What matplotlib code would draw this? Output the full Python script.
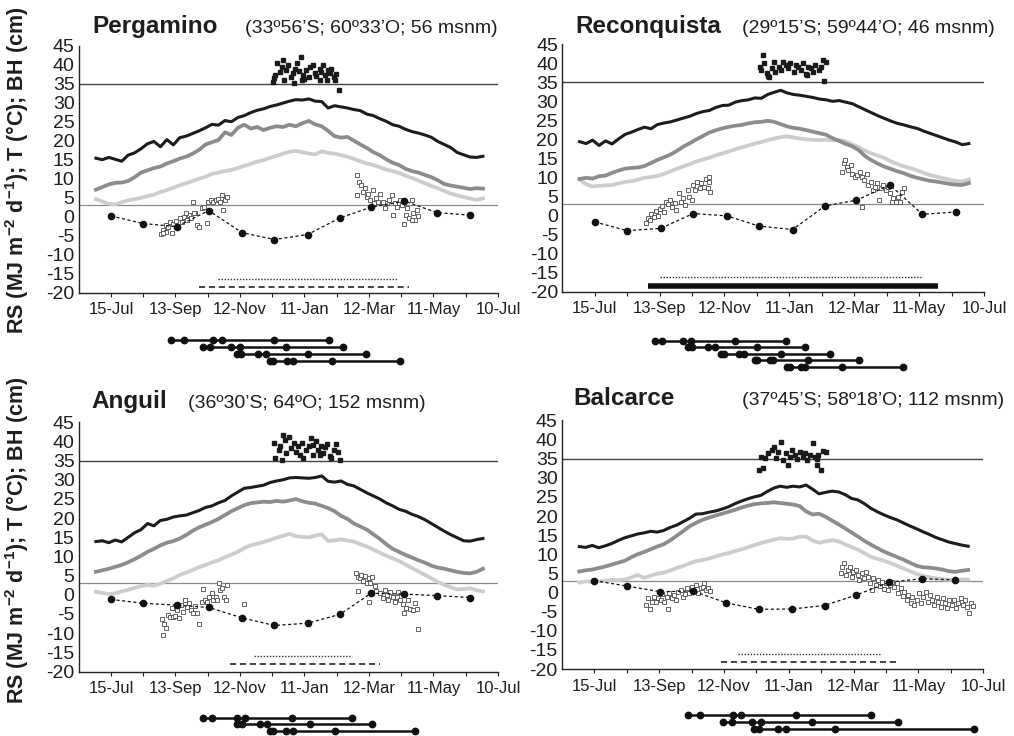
import matplotlib.pyplot as plt

plt.rcParams['font.family'] = ['Liberation Sans', 'DejaVu Sans']
plt.rcParams['mathtext.fontset'] = 'custom'
plt.rcParams['mathtext.rm'] = 'Liberation Sans'
plt.rcParams['mathtext.bf'] = 'Liberation Sans:bold'

W, H = 1014, 736

# days since 15-Jul
days = list(range(-14, 352, 6))
month_days = [0, 30, 61, 91, 122, 152, 183, 213, 242, 273, 303, 334]
tick_days = list(range(0, 361, 30))
tick_labels = ['15-Jul', '', '13-Sep', '', '12-Nov', '', '11-Jan', '', '12-Mar', '', '11-May', '', '10-Jul']
y_ticks = list(range(-20, 46, 5))

# ---- Pergamino
perg_black = [15.4, 15.0, 15.6, 15.1, 14.6, 16.2, 16.8, 17.9, 19.2, 19.8,
              18.4, 20.3, 18.9, 20.8, 21.2, 21.9, 22.6, 23.4, 24.3, 24.1,
              25.3, 25.0, 26.1, 26.6, 27.4, 28.0, 28.4, 29.0, 29.4, 29.9,
              30.4, 30.8, 30.7, 31.0, 30.4, 30.3, 28.6, 29.2, 28.9, 28.6,
              28.2, 27.9, 27.0, 26.6, 25.8, 25.1, 24.2, 23.8, 23.0, 22.4,
              22.0, 21.5, 20.9, 19.8, 19.0, 18.2, 16.9, 16.3, 15.7, 15.6, 15.9]
perg_gray = [7.1, 7.8, 8.5, 8.9, 9.0, 9.4, 10.4, 11.6, 12.2, 12.8,
             13.2, 14.0, 14.6, 15.3, 15.8, 16.6, 17.6, 19.0, 19.6, 20.2,
             22.2, 21.5, 23.4, 24.2, 23.2, 23.6, 22.8, 23.4, 23.8, 23.6,
             24.2, 23.8, 24.6, 25.2, 24.3, 23.8, 22.6, 21.2, 20.8, 21.0,
             20.0, 19.0, 18.1, 17.0, 16.2, 15.1, 14.2, 13.6, 12.6, 12.0,
             11.6, 11.0, 10.4, 9.6, 8.6, 8.2, 7.9, 7.6, 7.3, 7.5, 7.4]
perg_light = [4.6, 4.0, 3.4, 3.2, 3.8, 4.3, 4.6, 5.0, 5.4, 5.8,
              6.5, 7.0, 7.6, 8.3, 8.8, 9.4, 10.0, 10.5, 11.3, 11.6,
              12.0, 12.3, 12.8, 13.4, 13.9, 14.5, 14.9, 15.5, 16.0, 16.6,
              17.1, 17.3, 17.0, 16.6, 16.4, 17.2, 16.8, 16.6, 16.2, 15.8,
              15.2, 14.6, 14.0, 13.6, 13.0, 12.4, 12.0, 11.5, 10.8, 10.2,
              9.5, 8.8, 8.1, 7.5, 6.8, 6.1, 5.6, 5.2, 4.8, 4.4, 4.8]
perg_hot_d = [154, 152, 153, 157, 159, 161, 163, 165, 167, 169, 171, 173, 175, 177, 178, 179, 181, 184, 185, 188,
              190, 191, 194, 195, 197, 199, 201, 202, 204, 205, 207, 208, 209, 212, 151, 160, 170, 194, 180]
perg_hot_v = [40.5, 36.4, 37.3, 38.2, 39.5, 36.0, 38.6, 39.9, 36.8, 37.9, 39.0, 40.4, 38.4, 42.1, 36.0, 37.3, 38.6, 36.7, 39.5, 39.9,
              37.9, 37.0, 39.0, 38.2, 39.9, 37.3, 36.1, 38.6, 37.7, 39.0, 36.8, 36.0, 37.5, 33.3, 35.5, 41.2, 35.1, 36.0, 36.2]
perg_bh_d = [46.5, 48.7, 50.8, 52.7, 54.9, 56.4, 58, 60.1, 62, 64.2, 66.3, 68.2, 70.4, 72.5, 74.4, 76.6, 78.1, 80.3,
             82.1, 84.3, 86.5, 89, 90.5, 92.7, 95.1, 97.6, 99.8, 101.3, 102.9, 104.4, 106, 107.5, 51.5, 48.0, 70.0, 77.0,
             229, 231, 228.4, 233, 234.6, 236.2, 237.7, 239.3, 240.8, 243.3, 244.5, 246.4, 248.6, 250.1, 252.6, 254.8,
             257, 258.8, 261, 262.6, 264, 266.2, 268.7, 270.3, 272.4, 274.3, 275.5, 277.4, 279.6, 281.1, 282.7, 284.2,
             285.8, 280.2]
perg_bh_v = [-4.6, -3.5, -2.2, -2.6, -1.3, -4.4, -1.9, -1.1, -2.6, -0.4, -1.3, 0.0, -0.9, 0.4, -0.4, 3.9, 0.9, -2.2,
             -2.6, 2.2, 2.6, -1.6, 3.9, 4.4, 3.9, 4.4, 4.6, 3.9, 5.7, 1.8, 4.4, 5.3, -3.9, -4.2, 0.9, 0.9,
             11.0, 9.2, 5.7, 8.3, 6.6, 7.5, 5.3, 6.1, 4.4, 7.0, 3.5, 4.8, 3.9, 6.1, 3.9, 2.2,
             3.5, 4.4, 5.7, 0.4, 3.5, 2.6, 4.4, 3.1, -1.8, 0.4, 2.2, -0.4, 4.4, 0.9, -0.9, 1.8,
             0.2, -0.9]
perg_month = [0.2, -1.8, -2.6, 1.6, -4.2, -6.0, -4.7, -0.3, 2.5, 4.1, 1.1, 0.4]
perg_dotted = [100, 266, -16.5]
perg_lower = [82, 277, -18.4]
perg_pheno = [[56, 68, 95, 103, 152, 203],
              [86, 92, 112, 120, 163, 216],
              [117, 121, 137, 144, 183, 237],
              [148, 151, 164, 169, 206, 269]]

# ---- Reconquista
reco_black = [19.4, 18.9, 19.8, 18.4, 19.6, 18.8, 20.1, 21.3, 21.9, 22.6,
              23.2, 22.8, 23.9, 24.3, 24.6, 25.1, 25.6, 26.1, 26.8, 27.3,
              27.6, 28.4, 28.9, 29.0, 29.8, 30.2, 30.4, 30.9, 30.8, 31.8,
              32.4, 32.9, 32.2, 31.8, 31.6, 31.3, 31.0, 30.6, 30.4, 30.0,
              30.2, 29.8, 29.4, 28.6, 27.8, 27.0, 26.2, 25.5, 24.8, 24.2,
              23.8, 23.3, 22.9, 22.2, 21.6, 21.0, 20.4, 19.8, 19.3, 18.6, 18.9]
reco_gray = [9.6, 9.9, 9.7, 10.3, 10.5, 11.2, 11.8, 12.3, 12.5, 12.6,
             13.0, 13.8, 14.6, 15.3, 16.0, 17.0, 18.1, 19.0, 20.0, 20.9,
             21.8, 22.4, 22.9, 23.3, 23.6, 23.8, 24.2, 24.5, 24.6, 24.9,
             24.6, 24.0, 23.4, 23.0, 22.8, 22.4, 22.0, 21.6, 21.2, 20.3,
             19.6, 18.8, 18.2, 17.2, 15.6, 14.5, 13.6, 12.8, 12.2, 11.6,
             11.1, 10.4, 9.9, 9.5, 9.1, 8.9, 8.6, 8.3, 8.1, 8.0, 8.5]
reco_light = [9.4, 8.2, 7.6, 7.8, 7.9, 8.0, 8.4, 8.8, 9.0, 9.4,
              9.9, 10.1, 10.4, 10.9, 11.6, 12.3, 12.9, 13.5, 14.2, 14.7,
              15.2, 15.8, 16.3, 16.8, 17.4, 17.9, 18.4, 18.9, 19.3, 19.8,
              20.2, 20.6, 20.8, 20.5, 20.2, 20.0, 19.9, 19.8, 19.9, 19.7,
              19.8, 19.5, 18.7, 18.0, 17.0, 16.3, 15.7, 15.1, 14.2, 13.5,
              12.9, 12.4, 11.9, 11.2, 10.6, 10.2, 9.8, 9.4, 9.1, 8.9, 9.4]
reco_hot_d = [156, 154, 153, 157, 159, 161, 164, 166, 167, 170, 172, 174, 177, 179, 181, 184, 186, 188, 191, 193,
              195, 197, 200, 202, 204, 207, 209, 211, 214, 212, 160, 196]
reco_hot_v = [42.2, 38.2, 39.1, 40.0, 37.5, 36.5, 38.7, 40.4, 37.8, 39.1, 38.2, 40.4, 39.5, 38.7, 40.0, 37.8, 39.5, 39.1, 38.2, 40.0,
              37.3, 39.1, 38.7, 37.8, 39.5, 38.2, 39.1, 40.8, 40.4, 35.3, 36.6, 36.9]
reco_bh_d = [47.8, 49.4, 50.9, 52.4, 54.9, 57.1, 58.6, 60.8, 62.3, 64.2, 66.3, 67.9, 70, 71.9, 74, 75.6, 77.7, 79.6,
             81.7, 83.3, 85.8, 87.3, 89.5, 91, 92.5, 95, 97.2, 98.7, 100.9, 102.7, 104.3, 105.5, 107, 105.5,
             228.9, 230.7, 232.9, 231.4, 234.4, 236.6, 238.1, 240.6, 242.8, 245.2, 247.4, 249.3, 251.4, 253, 255.1,
             257, 259.1, 261.3, 262.8, 264.7, 266.8, 269, 270.8, 273, 274.5, 276.1, 278.2, 280.1, 282.3, 284.4,
             286.3, 246.8]
reco_bh_v = [-2.1, -0.8, -1.2, 0.5, -0.4, 1.2, -0.2, 1.8, 2.5, 1.0, 3.6, 3.0, 4.0, 2.1, 3.3, 1.4, 5.8, 3.6,
             4.5, 2.7, 6.7, 4.9, 4.0, 8.0, 6.7, 8.9, 7.1, 8.4, 7.5, 9.7, 7.1, 8.9, 6.2, 10.0,
             11.5, 13.7, 12.8, 14.5, 11.9, 13.2, 11.0, 10.2, 10.6, 11.5, 10.2, 9.3, 11.0, 8.0, 8.9,
             6.7, 7.5, 8.4, 4.0, 7.1, 8.0, 6.7, 7.5, 5.8, 3.6, 4.5, 3.6, 4.9, 3.6, 6.2,
             7.1, 2.3]
reco_month = [-1.7, -4.0, -3.4, 0.5, -0.1, -2.8, -3.7, 2.5, 4.0, 8.0, 0.3, 0.9]
reco_dotted = [60, 304, -16.3]
reco_lower = [49, 317, -18.6]
reco_pheno = [[56, 62, 82, 89, 130, 177],
              [86, 90, 105, 111, 150, 194],
              [117, 120, 133, 138, 172, 218],
              [148, 150, 162, 165, 197, 244],
              [178, 181, 191, 194, 229, 285]]

# ---- Anguil
angu_black = [13.9, 14.1, 13.6, 14.3, 13.8, 15.0, 16.2, 17.0, 18.6, 18.0,
              19.4, 19.7, 20.3, 20.6, 20.8, 21.4, 22.0, 22.8, 23.2, 24.0,
              24.6, 25.8, 26.8, 27.8, 28.0, 28.3, 28.6, 29.3, 29.7, 30.0,
              30.5, 30.6, 30.5, 30.4, 30.6, 31.0, 29.6, 29.4, 29.7, 28.8,
              28.4, 27.5, 26.6, 25.8, 25.0, 24.0, 23.2, 22.3, 21.8, 21.0,
              20.4, 19.6, 18.6, 17.6, 16.6, 15.7, 14.9, 14.1, 14.0, 14.4, 14.7]
angu_gray = [6.0, 6.4, 6.8, 7.3, 7.8, 8.5, 9.3, 10.2, 11.2, 12.0,
             12.9, 13.6, 14.0, 14.7, 15.6, 16.7, 17.6, 18.3, 19.0, 19.8,
             20.8, 21.8, 22.6, 23.4, 23.9, 24.1, 24.3, 24.2, 24.5, 24.3,
             24.6, 25.0, 24.4, 24.0, 23.8, 23.2, 22.6, 21.8, 20.6, 19.8,
             18.6, 17.8, 17.0, 15.8, 14.6, 13.2, 12.0, 11.2, 10.4, 9.7,
             9.0, 8.4, 7.6, 7.1, 6.8, 6.4, 6.0, 5.7, 5.6, 6.0, 6.8]
angu_light = [0.8, 0.5, 0.2, 0.4, 0.9, 1.3, 1.8, 2.3, 2.6, 2.4,
              2.9, 3.6, 4.3, 5.2, 5.8, 6.5, 7.2, 7.8, 8.5, 9.0,
              9.8, 10.5, 11.2, 12.2, 12.9, 13.3, 13.8, 14.3, 14.9, 15.4,
              15.9, 15.3, 15.1, 15.0, 15.4, 15.8, 14.0, 14.2, 14.5, 14.1,
              13.9, 13.2, 12.6, 11.8, 11.0, 10.2, 9.5, 8.8, 7.9, 7.0,
              6.1, 5.2, 4.3, 3.4, 2.6, 2.0, 1.4, 1.5, 1.7, 1.2, 0.9]
angu_hot_d = [152, 153, 156, 157, 159, 160, 162, 163, 166, 167, 170, 172, 174, 176, 178, 179, 181, 184, 186, 188,
              191, 193, 195, 197, 199, 201, 204, 205, 207, 209, 211, 213, 188, 194]
angu_hot_v = [39.7, 35.6, 37.8, 38.8, 35.2, 41.7, 40.4, 36.9, 41.2, 38.2, 39.5, 37.3, 38.7, 36.5, 39.5, 35.6, 37.8, 38.7, 40.8, 39.1,
              40.0, 37.8, 38.8, 36.9, 38.5, 39.3, 36.2, 35.6, 37.9, 39.3, 37.3, 35.2, 36.5, 36.5]
angu_bh_d = [47.7, 49.6, 50.8, 48.7, 52.7, 54.9, 56.4, 58, 59.5, 61.7, 63.5, 65.1, 67.3, 68.8, 70.4, 72.5, 74.4, 76.6,
             78.1, 80.3, 82.1, 84.3, 85.9, 87.4, 89, 91.4, 93.6, 95.1, 97.3, 98.9, 100.4, 101.3, 102.9, 105.1, 107,
             108.2, 124,
             227.8, 230, 229.4, 231.5, 233, 234.6, 236.2, 237.7, 239.6, 240.2, 240.8, 242.9, 245.5, 246.9, 250.1,
             252.6, 254.8, 256.3, 258, 259.4, 261.9, 264.1, 265.6, 267.2, 268.7, 271.2, 272.7, 274.3, 276.5, 278,
             280.5, 282.7, 284.8, 285.8]
angu_bh_v = [-6.4, -7.6, -8.6, -10.5, -5.3, -5.7, -3.5, -5.7, -5.5, -3.9, -6.1, -2.7, -4.4, -1.3, -3.3, -2.2, -3.9, -4.8,
             -2.9, -4.8, -7.6, -1.8, 1.4, -1.3, -1.8, -0.5, 0.6, -1.3, -0.5, -1.3, 3.2, 1.3, 1.7, -0.5, -1.3,
             2.6, -2.4,
             5.8, 4.7, 1.1, 4.3, 5.2, 3.7, 4.9, 3.2, 4.3, -2.0, 3.0, 4.6, 2.3, 1.1, 0.4,
             -0.7, 1.3, 0.0, -1.3, 0.8, -0.5, -2.0, -0.5, 0.8, -1.3, -2.4, -4.8, -3.5, -1.3, -3.8,
             -4.0, -2.2, -3.8, -9.0]
angu_month = [-1.2, -2.2, -2.7, -3.3, -6.0, -8.0, -7.4, -5.1, 0.4, 0.2, -0.2, -0.7]
angu_dotted = [133, 224, -15.9]
angu_lower = [111, 250, -18.0]
angu_pheno = [[86, 94, 117, 125, 168, 224],
              [117, 122, 139, 145, 185, 243],
              [148, 151, 163, 169, 208, 283]]

# ---- Balcarce
balc_black = [12.0, 11.8, 12.3, 11.7, 12.2, 12.8, 13.6, 14.3, 14.8, 15.3,
              15.6, 16.0, 15.8, 16.2, 17.0, 17.6, 18.5, 19.4, 20.5, 20.6,
              21.0, 21.3, 21.8, 22.4, 23.2, 23.9, 24.5, 25.0, 25.4, 26.4,
              27.3, 27.8, 27.5, 27.8, 27.6, 28.1, 27.0, 25.8, 26.2, 26.5,
              26.3, 25.6, 24.6, 24.2, 23.2, 22.0, 21.1, 20.3, 19.6, 19.0,
              18.2, 17.4, 16.7, 15.9, 15.2, 14.4, 13.8, 13.2, 12.8, 12.4, 12.1]
balc_gray = [5.5, 5.8, 6.0, 6.4, 6.8, 7.3, 7.8, 8.3, 9.2, 10.0,
             10.6, 11.3, 12.0, 12.6, 13.6, 14.8, 16.0, 17.3, 18.2, 19.0,
             19.6, 20.1, 20.6, 21.1, 21.6, 22.2, 22.7, 23.1, 23.3, 23.4,
             23.6, 23.4, 23.2, 23.0, 22.6, 21.2, 20.4, 20.6, 19.8, 18.8,
             17.8, 16.8, 15.7, 14.6, 13.5, 12.5, 11.6, 10.7, 10.0, 9.3,
             8.6, 7.8, 7.0, 6.6, 6.5, 6.3, 6.0, 5.6, 5.4, 5.7, 5.9]
balc_light = [2.6, 2.9, 2.8, 2.9, 3.1, 3.3, 3.2, 3.4, 3.9, 4.6,
              3.8, 4.4, 4.9, 5.2, 5.7, 6.4, 6.9, 7.6, 8.2, 8.5,
              8.9, 9.4, 9.9, 10.3, 10.8, 11.3, 11.8, 12.4, 12.9, 13.4,
              13.8, 14.2, 14.0, 14.1, 14.6, 14.6, 13.6, 13.0, 13.4, 13.7,
              13.4, 12.6, 11.9, 11.2, 10.3, 9.3, 8.8, 8.3, 7.7, 7.0,
              6.3, 5.6, 4.9, 4.4, 4.0, 3.7, 3.5, 3.3, 3.3, 3.4, 3.4]
balc_hot_d = [152, 154, 156, 158, 161, 164, 166, 168, 170, 173, 175, 177, 179, 181, 183, 186, 188, 190, 193, 195,
              197, 200, 202, 204, 206, 207, 210, 212, 214, 206]
balc_hot_v = [32.0, 35.5, 32.5, 35.1, 36.4, 37.3, 38.0, 35.1, 36.8, 39.4, 34.7, 36.4, 33.3, 35.3, 37.2, 35.9, 34.8, 36.8, 35.5, 36.4,
              34.7, 36.0, 39.0, 35.3, 33.3, 36.0, 32.0, 37.0, 36.8, 35.0]
balc_bh_d = [47.5, 49.4, 51.5, 53.1, 55.2, 57.1, 59.2, 61.4, 62.9, 64.8, 66.9, 67.9, 69.4, 71.6, 73.7, 75.3,
             77.7, 79.9, 81.7, 83.9, 86.1, 87.6, 90.1, 92.2, 93.8, 96.2, 98.4, 100.3, 101.8, 103.3, 105.5, 107,
             228.3, 229.5, 231.4, 232.6, 234.4, 236.6, 238.1, 239.7, 241.8, 243.7, 245.2, 247.4, 249.6, 251.4,
             253.6, 255.1, 256.7, 258.2, 260.4, 262.2, 264.4, 265.9, 268.1, 269.6, 271.5, 273.6, 275.2, 277.6,
             279.8, 281.3, 283.5, 285.3, 286.9, 289, 290.6, 292.7, 294.3, 296.1, 298.3, 300.5, 302.3, 304.5,
             306.6, 308.5, 310.6, 312.8, 314.7, 316.8, 318.4, 320.5, 322.4, 324.5, 326.7, 328.5, 330.7, 332.8,
             334.7, 336.9, 339, 340.9, 343, 344.6, 346.8, 348.6, 350.1]
balc_bh_v = [-3.3, -1.5, -4.4, -2.4, -1.1, -2.4, -1.5, -2.0, -0.4, -2.4, -1.1, -4.4, -0.2, -1.5, -0.7, -2.0,
             0.2, 0.6, -1.1, -0.4, 1.1, 0.0, 1.5, 0.4, 1.9, 0.0, 1.1, 1.5, 2.6, 0.6, 1.1, 0.5,
             5.0, 6.8, 7.6, 4.6, 5.9, 6.8, 4.1, 5.4, 6.0, 4.6, 3.4, 5.0, 3.7, 5.4,
             4.1, 2.4, 0.6, 3.7, 1.9, 3.4, 1.7, 2.8, 0.8, 2.4, 0.6, 1.9, 2.8, 1.5,
             2.6, 0.0, 1.1, -0.9, 0.2, -2.0, -0.7, -2.8, -1.1, -3.3, -2.0, -0.2, -2.8, -1.1,
             0.2, -2.4, -0.7, -2.0, -3.3, -1.1, -2.4, -3.7, -1.5, -2.8, -4.1, -2.0, -3.3, -2.0,
             -4.1, -2.8, -1.5, -3.3, -2.0, -3.9, -5.3, -2.8, -3.5]
balc_month = [3.1, 1.7, 0.2, 0.4, -2.7, -4.4, -4.3, -3.4, -0.7, 2.7, 3.6, 3.3]
balc_dotted = [133, 264, -16.2]
balc_lower = [117, 281, -18.1]
balc_pheno = [[87, 98, 128, 136, 187, 256],
              [119, 127, 146, 154, 201, 281],
              [148, 152, 170, 177, 223, 351]]

ylabel = r'RS (MJ m$^{\mathbf{-2}}$ d$^{\mathbf{-1}}$); T (°C); BH (cm)'


def px_axes(fig, left, top, right, bottom):
    return fig.add_axes([left / W, 1 - bottom / H, (right - left) / W, (bottom - top) / H])


def pts(x, y):
    n = min(len(x), len(y))
    return x[:n], y[:n]


def draw_panel(fig, box, black, gray, light, hot_d, hot_v, bh_d, bh_v, month, dotted, lower, thick=False):
    ax = px_axes(fig, *box)
    ax.set_xlim(-30, 360)
    ax.set_ylim(-20, 45)
    ax.axhline(35, color='#444444', lw=1.0, zorder=1)
    ax.axhline(3, color='#8a8a8a', lw=0.9, zorder=1)
    ax.plot(*pts(days, light), color='#cdcdcd', lw=2.7, zorder=2)
    ax.plot(*pts(days, gray), color='#8c8c8c', lw=2.7, zorder=3)
    ax.plot(*pts(days, black), color='#1c1c1c', lw=2.2, zorder=4)
    ax.plot(*pts(hot_d, hot_v), 's', color='#1a1a1a', ms=3.0, zorder=5)
    ax.plot(*pts(bh_d, bh_v), 's', mfc='white', mec='#4a4a4a', mew=0.6, ms=3.4, zorder=5)
    ax.plot(*pts(month_days, month), color='#111111', ls=(0, (2.5, 2)), lw=0.9,
            marker='o', ms=4.5, zorder=6)
    ax.plot(dotted[:2], [dotted[2]] * 2, color='#333333', ls=(0, (1, 1.2)), lw=1.0)
    if thick:
        ax.plot(lower[:2], [lower[2]] * 2, color='#111111', lw=4, solid_capstyle='butt')
    else:
        ax.plot(lower[:2], [lower[2]] * 2, color='#111111', ls=(0, (4, 2.5)), lw=1.1)

    for s in ['top', 'right']:
        ax.spines[s].set_visible(False)
    for s in ['left', 'bottom']:
        ax.spines[s].set_color('#222222')
        ax.spines[s].set_linewidth(1.0)
    ax.set_yticks(y_ticks)
    ax.set_yticklabels([str(v) for v in y_ticks])
    ax.set_xticks(tick_days)
    ax.set_xticklabels(tick_labels)
    ax.tick_params(axis='y', length=0, labelsize=14, pad=3, colors='#1e1e1e')
    ax.tick_params(axis='x', length=3, direction='out', labelsize=12, pad=4, colors='#1e1e1e')
    return ax


def draw_pheno(fig, box, rows, y0, dy):
    n = len(rows)
    pa = px_axes(fig, box[0], y0 - dy, box[2], y0 + dy * n)
    pa.set_xlim(-30, 360)
    pa.set_ylim(n, -1)
    pa.axis('off')
    for i, row in enumerate(rows):
        pa.plot(row, [i] * len(row), color='#111111', lw=1.8, marker='o', ms=4.6,
                solid_capstyle='butt', clip_on=False)


def title(fig, x_name, x_coord, y, name, coords):
    fig.text(x_name / W, 1 - y / H, name, fontsize=17.5, fontweight='bold',
             va='baseline', color='#1e1e1e')
    fig.text(x_coord / W, 1 - y / H, coords, fontsize=14, va='baseline', color='#1e1e1e')


fig = plt.figure(figsize=(W / 100, H / 100), dpi=100)

box_tl = (78.7, 45.7, 498, 292.7)
box_tr = (562.3, 44.3, 984, 291.5)
box_bl = (78.7, 422.3, 498, 671.5)
box_br = (562, 420.4, 983.3, 669)

draw_panel(fig, box_tl, perg_black, perg_gray, perg_light, perg_hot_d, perg_hot_v,
           perg_bh_d, perg_bh_v, perg_month, perg_dotted, perg_lower)
draw_panel(fig, box_tr, reco_black, reco_gray, reco_light, reco_hot_d, reco_hot_v,
           reco_bh_d, reco_bh_v, reco_month, reco_dotted, reco_lower, thick=True)
draw_panel(fig, box_bl, angu_black, angu_gray, angu_light, angu_hot_d, angu_hot_v,
           angu_bh_d, angu_bh_v, angu_month, angu_dotted, angu_lower)
draw_panel(fig, box_br, balc_black, balc_gray, balc_light, balc_hot_d, balc_hot_v,
           balc_bh_d, balc_bh_v, balc_month, balc_dotted, balc_lower)

draw_pheno(fig, box_tl, perg_pheno, 340, 6.9)
draw_pheno(fig, box_tr, reco_pheno, 340.7, 6.5)
draw_pheno(fig, box_bl, angu_pheno, 717.7, 6.5)
draw_pheno(fig, box_br, balc_pheno, 715, 7.0)

title(fig, 92, 245, 33, 'Pergamino', '(33º56’S; 60º33’O; 56 msnm)')
title(fig, 575, 742, 33, 'Reconquista', '(29º15’S; 59º44’O; 46 msnm)')
title(fig, 91, 188, 408, 'Anguil', '(36º30’S; 64ºO; 152 msnm)')
title(fig, 573, 742, 405, 'Balcarce', '(37º45’S; 58º18’O; 112 msnm)')

fig.text(17 / W, 1 - 170 / H, ylabel, rotation=90, fontsize=15.5, fontweight='bold',
         ha='center', va='center', color='#1e1e1e')
fig.text(17 / W, 1 - 540 / H, ylabel, rotation=90, fontsize=15.5, fontweight='bold',
         ha='center', va='center', color='#1e1e1e')

fig.savefig('out.png', dpi=100)
plt.close(fig)
